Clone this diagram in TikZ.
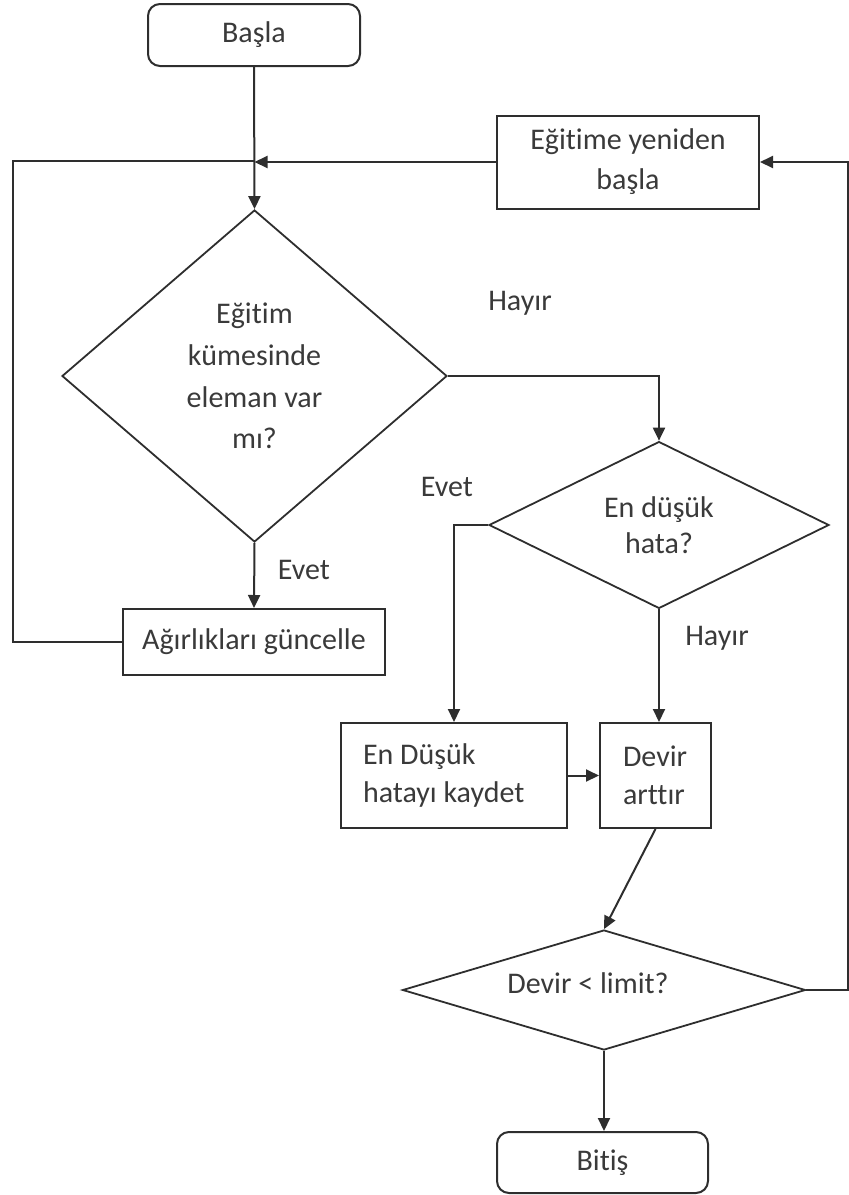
\documentclass[tikz,border=0pt]{standalone}
\usepackage{fontspec}
\setmainfont{Carlito}[Ligatures={NoCommon,NoRare,NoContextual}]
\usetikzlibrary{shapes.geometric,arrows.meta}
\definecolor{ink}{HTML}{2E2E2E}
\definecolor{txt}{HTML}{3A3A3A}
\begin{document}
\begin{tikzpicture}[x=0.5pt,y=-0.5pt,
  every node/.style={font=\fontsize{15}{20}\selectfont, text=txt},
  term/.style={draw=ink, line width=1pt, rounded corners=6pt, align=center, inner sep=0pt},
  proc/.style={draw=ink, line width=1pt, align=center, inner sep=0pt},
  procl/.style={draw=ink, line width=1pt, align=flush left, inner ysep=0pt},
  decide/.style={draw=ink, line width=0.9pt, shape=diamond, align=center, inner sep=0pt},
  link/.style={draw=ink, line width=1pt},
  arr/.style={link, -{Triangle[length=6.5pt,width=6pt]}},
  lbl/.style={inner sep=0pt}]
\useasboundingbox (0,0) rectangle (849,1195);

% nodes
\node[term, minimum width=106pt, minimum height=31pt] (start) at (254,35) {Başla};
\node[proc, minimum width=131pt, minimum height=46.5pt] (restart) at (628,162) {Eğitime yeniden\\başla};
\node[decide, minimum width=192.5pt, minimum height=166pt, font=\fontsize{15}{20.8}\selectfont] (d1) at (254.5,376) {Eğitim\\kümesinde\\eleman var\\mı?};
\node[proc, minimum width=131pt, minimum height=33pt] (upd) at (254,642) {Ağırlıkları güncelle};
\node[decide, minimum width=170pt, minimum height=83pt, font=\fontsize{15}{18}\selectfont] (d2) at (659,525) {En düşük\\hata?};
\node[procl, minimum width=113pt, minimum height=52.5pt, text width=91pt, inner xsep=11pt, font=\fontsize{15}{19}\selectfont] (save) at (454,775.5) {En Düşük\\hatayı kaydet};
\node[procl, minimum width=55.5pt, minimum height=52.5pt, text width=32.5pt, inner xsep=11.5pt, font=\fontsize{15}{19}\selectfont] (inc) at (655.5,775.5) {Devir\\arttır};
\node[decide, minimum width=201.5pt, minimum height=60pt,
  label={[xshift=-8pt,yshift=3.5pt,inner sep=0pt]center:Devir < limit?}] (d3) at (604,990) {};
\node[term, minimum width=105.5pt, minimum height=30.5pt] (end) at (602.5,1162.5) {Bitiş};

% branch labels
\node[lbl] (h1) at (520,303) {Hayır};
\node[lbl] (e1) at (304,570) {Evet};
\node[lbl] (e2) at (447,487) {Evet};
\node[lbl] (h2) at (717,638) {Hayır};

% loop corners
\coordinate (lc) at (13,161);
\coordinate (rc) at (847.5,162);

% connectors
\draw[arr] (start.south) -- (d1.north);
\draw[arr] (restart.west) -- (restart.west -| d1.north);
\draw[link] (upd.west) -| (lc) -- (lc -| d1.north);
\draw[arr] (d1.south) -- (upd.north);
\draw[arr] (d1.east) -| (d2.north);
\draw[arr] (d2.west) -| (save.north);
\draw[arr] (d2.south) -- (d2.south |- inc.north);
\draw[arr] (save.east) -- (inc.west);
\draw[arr] (inc.south) -- (d3.north);
\draw[arr] (d3.south) -- (d3.south |- end.north);
\draw[arr] (d3.east) -| (rc) -- (restart.east);
\end{tikzpicture}
\end{document}
